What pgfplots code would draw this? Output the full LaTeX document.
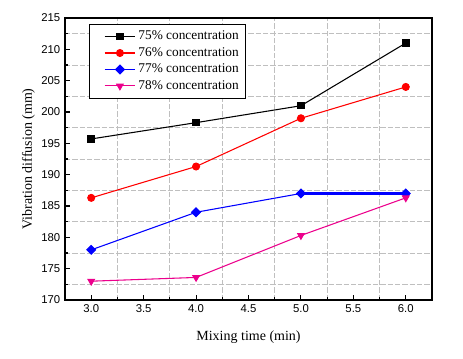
\documentclass[border=0pt]{standalone}
\usepackage{pgfplots}
\pgfplotsset{compat=1.18}
\usepackage{fontspec}
\setmainfont{Liberation Serif}
\newfontfamily\arial{Liberation Sans}
\begin{document}
\begin{tikzpicture}
\path[use as bounding box] (0,0) rectangle (347.25pt,269.25pt);
\begin{axis}[
  at={(48.75pt,44.25pt)}, anchor=south west,
  scale only axis, width=275.25pt, height=211.5pt,
  xmin=2.75, xmax=6.25, ymin=170, ymax=215,
  xtick={3,3.5,...,6}, ytick={170,175,...,215},
  minor x tick num=1, minor y tick num=1,
  xticklabel style={/pgf/number format/.cd, fixed, fixed zerofill, precision=1},
  ticklabel style={font=\arial\fontsize{8.5}{10}\selectfont},
  /pgf/number format/assume math mode=true,
  tick pos=left, tick align=inside,
  major tick length=3.5pt, minor tick length=2pt,
  every tick/.style={black, line width=0.8pt},
  axis line style={line width=1.6pt},
  minor grid style={gray!50, dash pattern=on 4pt off 1.5pt, line width=0.7pt},
  major grid style={draw=none},
  grid=both,
  xlabel={Mixing time (min)}, ylabel={Vibration diffusion (mm)},
  label style={font=\fontsize{10.5}{12}\selectfont},
  xlabel style={yshift=-7pt},
  ylabel style={yshift=-2pt},
  legend style={at={(0.065,0.979)}, anchor=north west, draw=black, line width=0.8pt,
    font=\fontsize{10}{12}\selectfont, row sep=0.2pt, inner xsep=3pt, inner ysep=3pt},
  legend cell align=left,
  legend image code/.code={\path (0pt,0pt); \draw[mark repeat=2,mark phase=2] plot coordinates {(8pt,0pt)(19.5pt,0pt)(31pt,0pt)};},
]
\addplot[black, line width=0.8pt, mark=square*, mark size=2.4pt, mark options={solid}] coordinates {(3,195.7)(4,198.3)(5,201)(6,211)};
\addlegendentry{75\% concentration}
\addplot[red, line width=0.8pt, mark=*, mark size=2.6pt] coordinates {(3,186.3)(4,191.3)(5,199)(6,204)};
\addlegendentry{76\% concentration}
\addplot[blue, line width=0.8pt, mark=square*, mark size=2.3pt, mark options={rotate=45}] coordinates {(3,178)(4,184)(5,187)(6,187)};
\addlegendentry{77\% concentration}
\addplot[magenta, line width=0.8pt, mark=triangle*, mark size=2.8pt, mark options={rotate=180}] coordinates {(3,173)(4,173.6)(5,180.3)(6,186.3)};
\addlegendentry{78\% concentration}
\addplot[blue, line width=2.2pt, forget plot] coordinates {(5,187)(6,187)};
\end{axis}
\end{tikzpicture}
\end{document}
